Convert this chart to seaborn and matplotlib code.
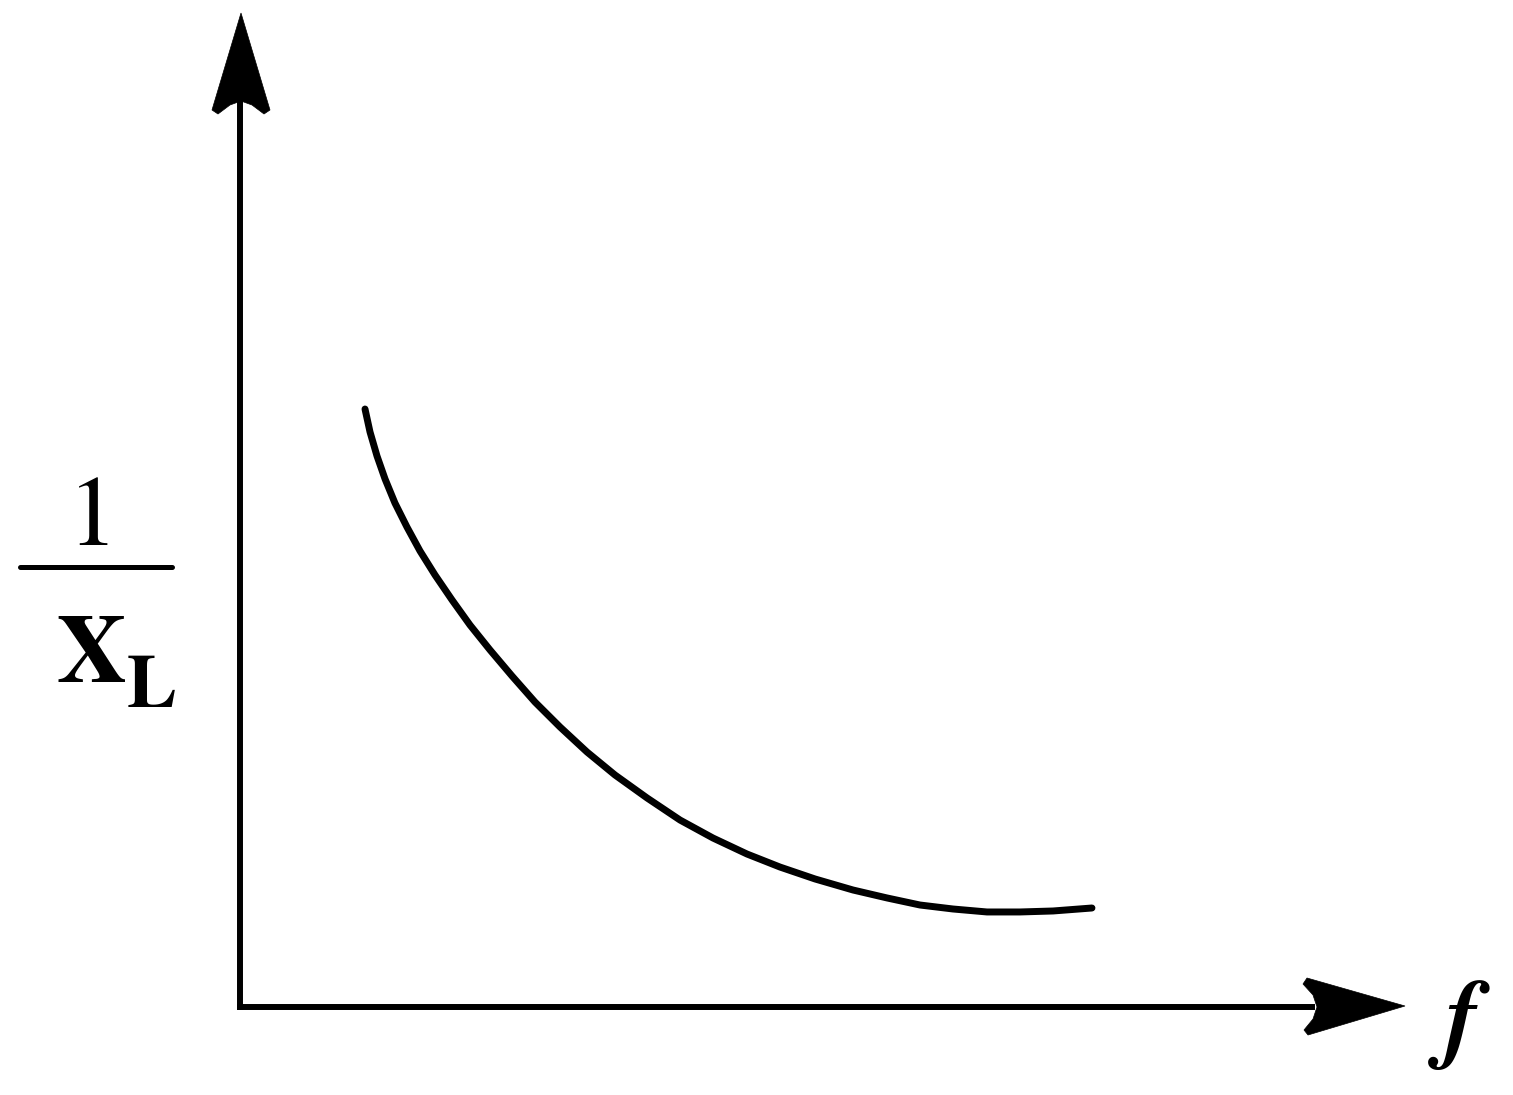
import seaborn as sns
import matplotlib.pyplot as plt
import pandas as pd
from matplotlib.patches import Polygon

# curve (f on x, 1/XL on y, arbitrary units 0..10)
f_vals = [1.073, 1.116, 1.176, 1.245, 1.330, 1.433, 1.545, 1.674, 1.820, 1.974,
          2.146, 2.335, 2.532, 2.747, 2.979, 3.219, 3.494, 3.777, 4.060, 4.352,
          4.635, 4.936, 5.262, 5.554, 5.837, 6.120, 6.412, 6.695, 6.979, 7.313]
inv_xl = [6.016, 5.785, 5.543, 5.312, 5.070, 4.829, 4.588, 4.346, 4.095, 3.843,
          3.592, 3.330, 3.068, 2.817, 2.565, 2.334, 2.103, 1.881, 1.700, 1.539,
          1.408, 1.288, 1.177, 1.097, 1.026, 0.986, 0.956, 0.956, 0.966, 0.996]

W, H = 1513, 1095

sns.set_style('white')
plt.rcParams['font.family'] = ['STIXGeneral', 'DejaVu Serif']
plt.rcParams['text.color'] = 'black'

fig = plt.figure(figsize=(W / 100, H / 100), dpi=100)
ax = fig.add_axes([240 / W, 88 / H, (1405 - 240) / W, (1007 - 13) / H])

df = pd.DataFrame({'f': f_vals, 'y': inv_xl})
sns.lineplot(data=df, x='f', y='y', sort=False, color='black', linewidth=5.0,
             solid_capstyle='round', solid_joinstyle='round', ax=ax)

ax.set_xlim(0, 10)
ax.set_ylim(0, 10)
ax.set_xticks([])
ax.set_yticks([])
ax.set_xlabel('')
ax.set_ylabel('')
ax.patch.set_alpha(0)
for s in ['top', 'right']:
    ax.spines[s].set_visible(False)
for s in ['left', 'bottom']:
    ax.spines[s].set_linewidth(4.3)
    ax.spines[s].set_color('black')
ax.spines['left'].set_bounds(0, 9.1)
ax.spines['bottom'].set_bounds(0, 9.2)


def px(pts):
    return [(x / W, 1 - y / H) for x, y in pts]


# arrow heads (stealth style)
yhead = [(241, 13), (212, 110), (218, 114), (230, 105), (241, 101),
         (252, 105), (264, 114), (270, 110)]
xhead = [(1405, 1006), (1307, 978), (1303, 984), (1313, 995), (1317, 1007),
         (1313, 1019), (1304, 1030), (1308, 1035)]
for pts in (yhead, xhead):
    fig.patches.append(Polygon(px(pts), closed=True, facecolor='black',
                               edgecolor='black', lw=0.5, transform=fig.transFigure))

# y label: 1 / X_L
fig.text(93 / W, 1 - 522 / H, '1', fontsize=72, ha='center', va='center', color='black')
fig.lines.append(plt.Line2D([20 / W, 172 / W], [1 - 567 / H, 1 - 567 / H],
                            color='black', lw=3.6, transform=fig.transFigure))
fig.text(92 / W, 1 - 659 / H, 'X', fontsize=70, fontweight='bold', ha='center',
         va='center', color='black')
fig.text(152 / W, 1 - 689 / H, 'L', fontsize=54, fontweight='bold', ha='center',
         va='center', color='black')

# x label
fig.text(1462 / W, 1 - 1025 / H, 'f', fontsize=72, fontstyle='italic', fontweight='bold',
         ha='center', va='center', color='black')

fig.savefig('out.png', dpi=100)
